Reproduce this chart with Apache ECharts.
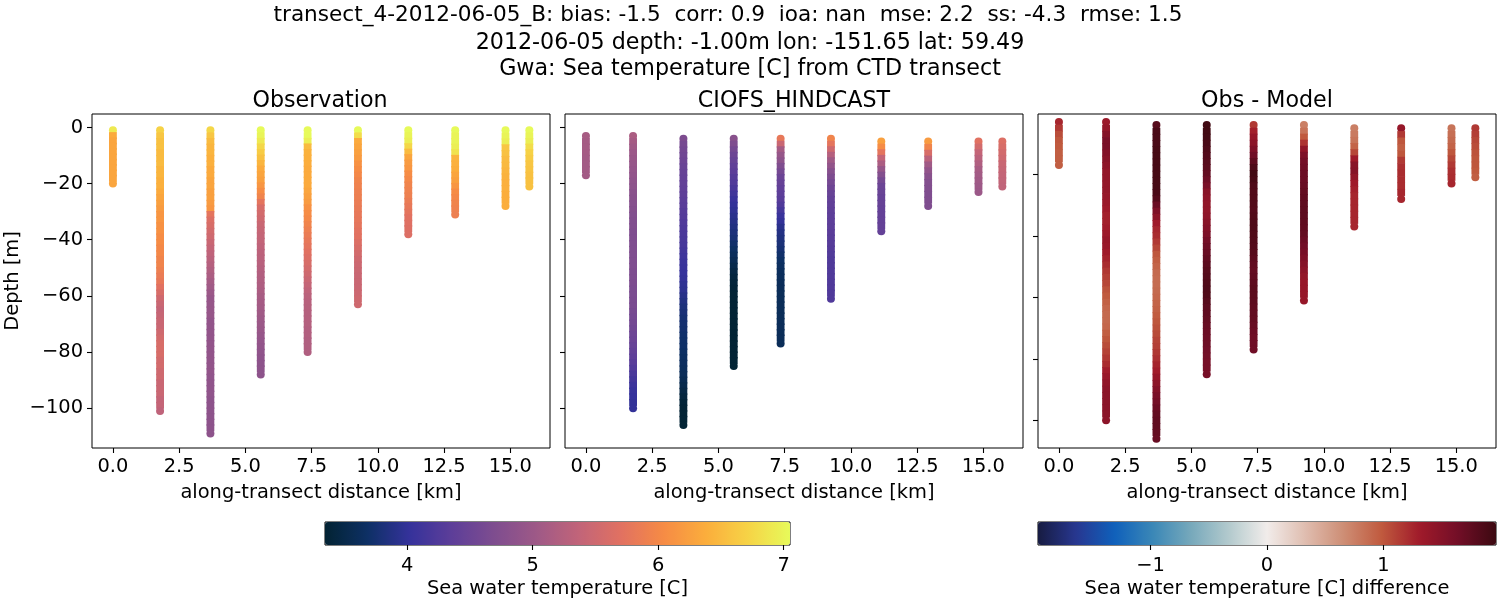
<!DOCTYPE html>
<html>
<head>
<meta charset="utf-8">
<style>
  html, body { margin: 0; background: #fff; }
  #chart { width: 1500px; height: 600px; }
</style>
<script src="https://cdn.jsdelivr.net/npm/echarts@6/dist/echarts.min.js"></script>
</head>
<body>
<div id="chart"></div>
<script>
const FONT = 'DejaVu Sans';
const TICK_SIZE = 19.44;

// along-transect position of each cast [km]
const stationKm = [0, 1.78, 3.68, 5.58, 7.35, 9.25, 11.15, 12.92, 14.82, 15.72];

// first and last sample depth of each cast [m]
const obsTop = [-1, -1, -1, -1, -1, -1, -1, -1, -1, -1];
const obsBottom = [-20, -101, -109, -88, -80, -63, -38, -31, -28, -21];
const modelTop = [-3, -3, -4, -4, -4, -4, -5, -5, -5, -5];
const modelBottom = [-17, -100, -106, -85, -77, -61, -37, -28, -23, -21];

// observed temperature, top to bottom of each cast
const obsTemp = [
  [6.9, 6.35, 6.3, 6.3, 6.3, 6.3, 6.3, 6.3, 6.3, 6.3, 6.3],
  [6.7, 6.6, 6.55, 6.55, 6.5, 6.5, 6.5, 6.45, 6.45, 6.4,
   6.4, 6.35, 6.3, 6.25, 6.2, 6.15, 6.15, 6.1, 6.1, 6.05,
   6.05, 6.0, 6.0, 5.95, 5.95, 5.9, 5.85, 5.8, 5.7, 5.6,
   5.5, 5.45, 5.4, 5.42, 5.45, 5.45, 5.5, 5.55, 5.6, 5.6,
   5.6, 5.55, 5.55, 5.5, 5.5, 5.45, 5.45, 5.45, 5.4, 5.4, 5.35],
  [6.75, 6.6, 6.5, 6.45, 6.45, 6.4, 6.4, 6.35, 6.35, 6.3,
   6.3, 6.25, 6.25, 6.2, 6.15, 5.75, 5.65, 5.6, 5.55, 5.5,
   5.45, 5.4, 5.35, 5.3, 5.25, 5.2, 5.15, 5.1, 5.05, 5.0,
   4.95, 4.95, 4.95, 4.95, 4.9, 4.9, 4.9, 4.9, 4.9, 4.9,
   4.9, 4.9, 4.9, 4.9, 4.88, 4.88, 4.88, 4.88, 4.85, 4.85,
   4.85, 4.85, 4.85, 4.85, 4.85],
  [7.05, 7.0, 6.9, 6.75, 6.65, 6.55, 6.45, 6.35, 6.3, 6.25,
   6.15, 6.05, 5.95, 5.75, 5.6, 5.55, 5.5, 5.45, 5.42, 5.4,
   5.38, 5.35, 5.32, 5.3, 5.28, 5.25, 5.22, 5.2, 5.18, 5.15,
   5.12, 5.1, 5.08, 5.05, 5.02, 5.0, 4.98, 4.95, 4.92, 4.9,
   4.88, 4.86, 4.85, 4.85, 4.85],
  [7.05, 7.05, 6.95, 6.5, 6.42, 6.4, 6.38, 6.35, 6.35, 6.35,
   6.35, 6.3, 6.25, 6.2, 6.1, 6.05, 6.0, 5.95, 5.9, 5.85,
   5.8, 5.75, 5.7, 5.65, 5.6, 5.55, 5.5, 5.45, 5.4, 5.35,
   5.3, 5.28, 5.26, 5.25, 5.25, 5.24, 5.22, 5.22, 5.2, 5.2, 5.2],
  [7.05, 6.8, 6.35, 6.3, 6.25, 6.2, 6.1, 6.05, 6.0, 5.95,
   5.92, 5.9, 5.88, 5.85, 5.82, 5.8, 5.78, 5.75, 5.72, 5.7,
   5.65, 5.6, 5.55, 5.5, 5.48, 5.46, 5.45, 5.45, 5.45, 5.48, 5.5, 5.5],
  [7.05, 7.0, 6.95, 6.75, 6.5, 6.3, 6.2, 6.15, 6.05, 6.0,
   5.95, 5.92, 5.9, 5.85, 5.8, 5.75, 5.7, 5.68, 5.66, 5.65],
  [7.05, 7.0, 7.0, 6.95, 6.85, 6.45, 6.4, 6.38, 6.3, 6.25,
   6.15, 6.05, 6.0, 5.95, 5.92, 5.9],
  [7.05, 7.0, 6.95, 6.6, 6.55, 6.5, 6.48, 6.45, 6.42, 6.4,
   6.4, 6.38, 6.38, 6.38],
  [7.05, 7.0, 6.95, 6.8, 6.7, 6.65, 6.6, 6.58, 6.55, 6.55, 6.55]
];

// model temperature
const modelTemp = [
  [5.12, 5.1, 5.1, 5.1, 5.08, 5.08, 5.08, 5.08],
  [5.15, 5.1, 5.05, 5.0, 4.97, 4.95, 4.92, 4.9, 4.87, 4.85,
   4.82, 4.8, 4.78, 4.76, 4.74, 4.72, 4.72, 4.7, 4.7, 4.7,
   4.7, 4.7, 4.7, 4.7, 4.68, 4.68, 4.68, 4.66, 4.66, 4.65,
   4.65, 4.62, 4.6, 4.58, 4.55, 4.52, 4.5, 4.46, 4.42, 4.38,
   4.32, 4.26, 4.2, 4.14, 4.08, 4.04, 4.02, 4.0, 4.0],
  [4.68, 4.62, 4.58, 4.55, 4.52, 4.48, 4.46, 4.44, 4.42, 4.4,
   4.38, 4.35, 4.33, 4.3, 4.28, 4.25, 4.22, 4.2, 4.18, 4.16,
   4.13, 4.1, 4.07, 4.05, 4.02, 4.0, 3.97, 3.95, 3.9, 3.86,
   3.82, 3.8, 3.77, 3.75, 3.74, 3.72, 3.71, 3.7, 3.68, 3.66,
   3.64, 3.62, 3.6, 3.56, 3.52, 3.47, 3.42, 3.39, 3.37, 3.36,
   3.36, 3.36],
  [4.8, 4.7, 4.6, 4.52, 4.46, 4.4, 4.36, 4.3, 4.26, 4.2,
   4.12, 4.05, 4.0, 3.97, 3.93, 3.9, 3.86, 3.82, 3.78, 3.72,
   3.67, 3.62, 3.57, 3.52, 3.47, 3.43, 3.4, 3.38, 3.36, 3.36,
   3.36, 3.36, 3.36, 3.36, 3.36, 3.36, 3.36, 3.36, 3.36, 3.36, 3.36, 3.36],
  [5.8, 5.45, 5.1, 4.95, 4.85, 4.7, 4.6, 4.5, 4.45, 4.4,
   4.36, 4.32, 4.25, 4.15, 4.05, 4.0, 3.93, 3.88, 3.84, 3.8,
   3.76, 3.72, 3.68, 3.65, 3.63, 3.62, 3.61, 3.6, 3.6, 3.6,
   3.6, 3.6, 3.6, 3.6, 3.6, 3.6, 3.6, 3.6],
  [5.95, 5.75, 5.5, 5.25, 5.05, 4.9, 4.78, 4.68, 4.6, 4.52,
   4.46, 4.42, 4.4, 4.38, 4.36, 4.36, 4.35, 4.34, 4.32, 4.3,
   4.28, 4.26, 4.25, 4.25, 4.25, 4.25, 4.25, 4.25, 4.25, 4.25],
  [6.25, 6.05, 5.75, 5.4, 5.15, 4.95, 4.75, 4.6, 4.5, 4.48,
   4.45, 4.45, 4.43, 4.43, 4.43, 4.43, 4.43],
  [6.2, 5.95, 5.6, 5.3, 5.05, 4.9, 4.8, 4.75, 4.72, 4.7, 4.7, 4.7],
  [5.7, 5.55, 5.4, 5.3, 5.2, 5.12, 5.08, 5.05, 5.02, 5.0],
  [5.65, 5.6, 5.55, 5.5, 5.45, 5.42, 5.4, 5.38, 5.36]
];

// obs - model, on the model depths
const diffTemp = [
  [1.25, 1.15, 1.05, 1.0, 0.98, 0.95, 0.95, 0.95],
  [1.35, 1.4, 1.5, 1.58, 1.58, 1.52, 1.48, 1.44, 1.4, 1.4,
   1.4, 1.4, 1.38, 1.35, 1.32, 1.28, 1.28, 1.3, 1.34, 1.38,
   1.36, 1.32, 1.27, 1.22, 1.16, 1.12, 1.08, 1.02, 0.98, 0.94,
   0.9, 0.88, 0.88, 0.9, 0.95, 1.0, 1.05, 1.1, 1.15, 1.22,
   1.3, 1.36, 1.42, 1.45, 1.46, 1.46, 1.46, 1.46, 1.45],
  [1.8, 1.88, 1.88, 1.88, 1.9, 1.9, 1.9, 1.9, 1.9, 1.9,
   1.9, 1.88, 1.82, 1.68, 1.55, 1.45, 1.32, 1.25, 1.22, 1.15,
   1.08, 1.0, 0.96, 0.92, 0.88, 0.87, 0.87, 0.88, 0.9, 0.92,
   0.94, 0.97, 1.0, 1.03, 1.06, 1.1, 1.12, 1.16, 1.2, 1.26,
   1.3, 1.38, 1.45, 1.52, 1.58, 1.62, 1.68, 1.72, 1.74, 1.74,
   1.72, 1.7],
  [1.93, 1.93, 1.92, 1.88, 1.85, 1.82, 1.8, 1.78, 1.72, 1.66,
   1.58, 1.48, 1.44, 1.42, 1.42, 1.44, 1.48, 1.52, 1.56, 1.62,
   1.67, 1.7, 1.74, 1.77, 1.8, 1.82, 1.84, 1.85, 1.84, 1.8,
   1.77, 1.74, 1.72, 1.7, 1.68, 1.67, 1.66, 1.64, 1.62, 1.6, 1.6, 1.6],
  [1.15, 1.28, 1.38, 1.46, 1.55, 1.65, 1.75, 1.85, 1.93, 1.9,
   1.85, 1.84, 1.84, 1.83, 1.82, 1.84, 1.85, 1.85, 1.84, 1.83,
   1.82, 1.8, 1.77, 1.74, 1.72, 1.74, 1.76, 1.78, 1.78, 1.77,
   1.75, 1.73, 1.72, 1.7, 1.68, 1.66, 1.65, 1.65],
  [0.75, 0.82, 0.98, 1.18, 1.42, 1.55, 1.62, 1.65, 1.68, 1.68,
   1.7, 1.72, 1.74, 1.75, 1.76, 1.76, 1.75, 1.74, 1.72, 1.68,
   1.64, 1.6, 1.55, 1.5, 1.45, 1.4, 1.38, 1.38, 1.38, 1.38],
  [0.75, 0.78, 0.82, 0.92, 1.08, 1.32, 1.48, 1.5, 1.42, 1.32,
   1.28, 1.25, 1.25, 1.25, 1.25, 1.25, 1.25],
  [1.38, 1.15, 1.0, 0.95, 1.0, 1.15, 1.2, 1.22, 1.22, 1.22, 1.25, 1.25],
  [0.82, 0.85, 0.88, 0.92, 1.0, 1.08, 1.15, 1.2, 1.22, 1.25],
  [1.15, 1.12, 1.08, 1.05, 1.02, 1.0, 1.0, 0.98, 0.95]
];

const xTicks = [0, 2.5, 5, 7.5, 10, 12.5, 15];
const depthTicks = [-100, -80, -60, -40, -20, 0];
const diffDepthTicks = [-100, -80, -60, -40, -20];
const tempTicks = [4, 5, 6, 7];
const diffTicks = [-1, 0, 1];

// cmocean thermal and balance
const thermal = ['#032333', '#0d3064', '#35329b', '#5d3e99', '#7e4d8f', '#9e5987',
  '#c16479', '#e17161', '#f68b45', '#fbad3c', '#f6d346', '#e7fa5a'];
const balance = ['#171c42', '#283790', '#0f60bb', '#3a87b7', '#76a8bb', '#b3cacd', '#f1ecea',
  '#dfbdb0', '#ce8e75', '#c05a3e', '#a01a2a', '#720e27', '#3c0911'];

const minus = (s) => String(s).replace('-', '\u2212');

// samples are spread evenly over each cast's depth range
// ends of a cast stay round, the samples between are flat so the column has a clean edge
const castPoints = (tops, bottoms, values) => {
  const pts = [];
  values.forEach((cast, s) => {
    cast.forEach((v, i) => {
      const depth = tops[s] + (bottoms[s] - tops[s]) * i / (cast.length - 1);
      const end = i === 0 || i === cast.length - 1;
      pts.push({
        value: [stationKm[s], depth, v],
        symbol: end ? 'circle' : 'rect',
        symbolSize: end ? 8 : [7.8, 7]
      });
    });
  });
  return pts;
};

const tickLine = { color: '#000', width: 1.1 };

const panelXAxis = (gridIndex) => ({
  type: 'value',
  gridIndex: gridIndex,
  min: -0.79,
  max: 16.5,
  name: 'along-transect distance [km]',
  nameLocation: 'middle',
  nameGap: 35,
  nameTextStyle: { fontFamily: FONT, fontSize: TICK_SIZE, color: '#000' },
  splitLine: { show: false },
  axisLine: { show: false, onZero: false },
  axisTick: { show: true, customValues: xTicks, length: 5, lineStyle: tickLine },
  axisLabel: {
    customValues: xTicks,
    fontFamily: FONT, fontSize: TICK_SIZE, color: '#000', margin: 9,
    formatter: (v) => Number(v).toFixed(1)
  }
});

const panelYAxis = (gridIndex, min, max, ticks, labelled) => ({
  type: 'value',
  gridIndex: gridIndex,
  min: min,
  max: max,
  name: labelled ? 'Depth [m]' : '',
  nameLocation: 'middle',
  nameGap: 70,
  nameTextStyle: { fontFamily: FONT, fontSize: TICK_SIZE, color: '#000' },
  splitLine: { show: false },
  axisLine: { show: false, onZero: false },
  axisTick: { show: true, customValues: ticks, length: 5, lineStyle: tickLine },
  axisLabel: {
    show: labelled,
    customValues: ticks,
    fontFamily: FONT, fontSize: TICK_SIZE, color: '#000', margin: 9,
    formatter: (v) => minus(v)
  }
});

const barXAxis = (gridIndex, min, max, ticks, name) => ({
  type: 'value',
  gridIndex: gridIndex,
  min: min,
  max: max,
  name: name,
  nameLocation: 'middle',
  nameGap: 34,
  nameTextStyle: { fontFamily: FONT, fontSize: TICK_SIZE, color: '#000' },
  splitLine: { show: false },
  axisLine: { show: false, onZero: false },
  axisTick: { show: true, customValues: ticks, length: 5, lineStyle: tickLine },
  axisLabel: {
    customValues: ticks,
    fontFamily: FONT, fontSize: TICK_SIZE, color: '#000', margin: 11,
    formatter: (v) => minus(v)
  }
});

const barYAxis = (gridIndex) => ({ type: 'value', gridIndex: gridIndex, show: false });

const panelSeries = (gridIndex, data) => ({
  type: 'scatter',
  xAxisIndex: gridIndex,
  yAxisIndex: gridIndex,
  data: data,
  silent: true,
  animation: false,
  itemStyle: { opacity: 1 }
});

const frame = { show: true, borderColor: '#000', borderWidth: 1, backgroundColor: 'transparent' };

const heading = (text, x, y, size) => ({
  text: text,
  left: x,
  top: y,
  textAlign: 'center',
  padding: 0,
  textStyle: { fontFamily: FONT, fontSize: size, fontWeight: 'normal', color: '#000' }
});

const colorBar = (seriesIndex, min, max, colors, left, len) => ({
  type: 'continuous',
  seriesIndex: seriesIndex,
  dimension: 2,
  min: min,
  max: max,
  orient: 'horizontal',
  left: left,
  top: 522,
  itemWidth: 23,
  itemHeight: len,
  padding: 0,
  text: null,
  calculable: false,
  hoverLink: false,
  showLabel: false,
  inRange: { color: colors }
});

const chart = echarts.init(document.getElementById('chart'), null, { renderer: 'canvas' });

chart.setOption({
  animation: false,
  backgroundColor: '#fff',
  title: [
    heading('transect_4-2012-06-05_B: bias: -1.5  corr: 0.9  ioa: nan  mse: 2.2  ss: -4.3  rmse: 1.5', 728, 4, 21.6),
    heading('2012-06-05 depth: -1.00m lon: -151.65 lat: 59.49', 750, 32, 22.2),
    heading('Gwa: Sea temperature [C] from CTD transect', 750, 58, 22.2),
    heading('Observation', 320, 90, 22.2),
    heading('CIOFS_HINDCAST', 794, 90, 22.2),
    heading('Obs - Model', 1267, 90, 22.2)
  ],
  grid: [
    { left: 92, top: 114, width: 458, height: 334, ...frame },
    { left: 565, top: 114, width: 458, height: 334, ...frame },
    { left: 1038, top: 114, width: 458, height: 334, ...frame },
    { left: 325, top: 522, width: 465, height: 23, ...frame },
    { left: 1038, top: 522, width: 458, height: 23, ...frame }
  ],
  xAxis: [
    panelXAxis(0),
    panelXAxis(1),
    panelXAxis(2),
    barXAxis(3, 3.346, 7.05, tempTicks, 'Sea water temperature [C]'),
    barXAxis(4, -1.965, 1.965, diffTicks, 'Sea water temperature [C] difference')
  ],
  yAxis: [
    panelYAxis(0, -114.2, 4.8, depthTicks, true),
    panelYAxis(1, -114.2, 4.8, depthTicks, false),
    panelYAxis(2, -109, -0.4, diffDepthTicks, false),
    barYAxis(3),
    barYAxis(4)
  ],
  visualMap: [
    colorBar([0, 1], 3.346, 7.05, thermal, 325, 465),
    colorBar([2], -1.965, 1.965, balance, 1038, 458)
  ],
  series: [
    panelSeries(0, castPoints(obsTop, obsBottom, obsTemp)),
    panelSeries(1, castPoints(modelTop, modelBottom, modelTemp)),
    panelSeries(2, castPoints(modelTop, modelBottom, diffTemp))
  ]
});
</script>
</body>
</html>
